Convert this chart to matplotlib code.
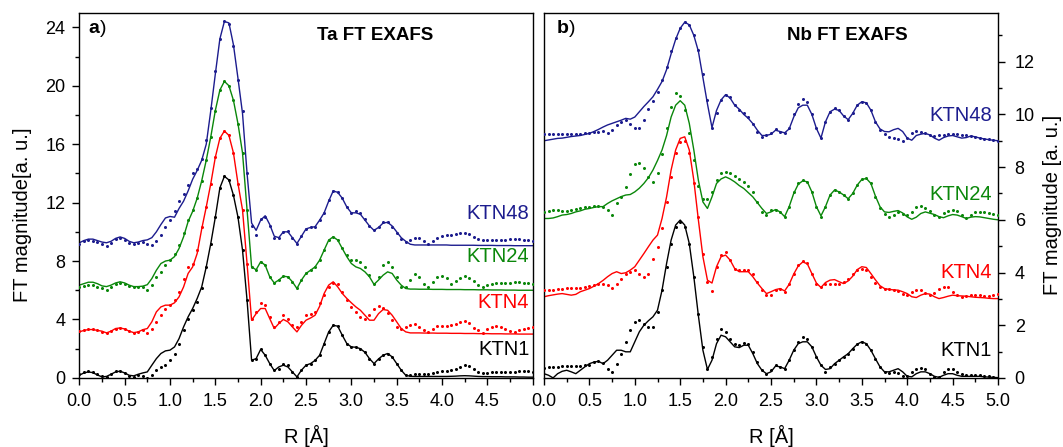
import numpy as np
import matplotlib
matplotlib.use("Agg")
import matplotlib.pyplot as plt
from matplotlib.ticker import MultipleLocator, FixedLocator

plt.rcParams['font.family'] = ['Liberation Sans', 'DejaVu Sans']

# sampling grid of R (Angstrom), step 0.05
r = np.round(np.arange(0, 101) * 0.05, 2)

# ---------------- Ta FT EXAFS (panel a) ----------------
ta_ktn48_data = [9.2, 9.35, 9.45, 9.4, 9.3, 9.15, 9.05, 9.25, 9.5, 9.6,
                 9.45, 9.25, 9.15, 9.25, 9.3, 9.15, 9.1, 9.4, 9.8, 10.3,
                 10.8, 11.4, 12.1, 12.6, 13.2, 14.0, 14.3, 15.0, 16.3, 18.5,
                 21.0, 23.2, 24.4, 24.2, 22.7, 20.4, 18.3, 14.0, 10.4, 9.8,
                 10.9, 11.0, 10.4, 9.6, 9.6, 10.0, 10.05, 9.6, 9.2, 9.7,
                 10.2, 10.3, 10.35, 10.8, 11.3, 12.2, 12.8, 12.75, 12.3, 11.7,
                 11.3, 11.4, 11.3, 10.9, 10.4, 10.1, 10.35, 10.7, 10.7, 10.35,
                 9.9, 9.5, 9.3, 9.45, 9.6, 9.55, 9.35, 9.2, 9.4, 9.6,
                 9.7, 9.75, 9.75, 9.85, 9.9, 9.95, 9.85, 9.65, 9.5, 9.45,
                 9.45, 9.45, 9.45, 9.45, 9.45, 9.5, 9.5, 9.5, 9.45, 9.45, 9.4]
ta_ktn48_fit = [9.25, 9.4, 9.5, 9.5, 9.4, 9.3, 9.25, 9.35, 9.55, 9.65,
                9.55, 9.35, 9.25, 9.3, 9.4, 9.45, 9.6, 10.0, 10.5, 10.95,
                11.05, 11.0, 11.6, 12.1, 12.8, 13.6, 14.2, 14.9, 16.0, 18.3,
                20.8, 23.2, 24.4, 24.3, 22.8, 20.5, 18.1, 14.0, 10.6, 10.1,
                10.8, 11.1, 10.5, 9.7, 9.6, 10.0, 10.0, 9.6, 9.2, 9.7,
                10.2, 10.3, 10.35, 10.8, 11.3, 12.1, 12.8, 12.7, 12.3, 11.7,
                11.3, 11.3, 11.2, 10.8, 10.4, 10.1, 10.3, 10.6, 10.65, 10.4,
                10.0, 9.6, 9.35, 9.15, 9.1, 9.1, 9.1, 9.1, 9.1, 9.1,
                9.1, 9.1, 9.08, 9.08, 9.08, 9.08, 9.08, 9.08, 9.07, 9.07,
                9.07, 9.07, 9.06, 9.06, 9.06, 9.06, 9.05, 9.05, 9.05, 9.05, 9.05]

ta_ktn24_data = [6.23, 6.3, 6.35, 6.35, 6.25, 6.12, 6.0, 6.2, 6.4, 6.5,
                 6.4, 6.28, 6.23, 6.23, 6.23, 6.05, 6.35, 6.92, 7.26, 7.72,
                 8.06, 8.5, 9.1, 9.9, 10.8, 11.5, 12.3, 13.5, 14.9, 16.5,
                 18.3, 19.7, 20.3, 20.0, 19.0, 17.4, 15.4, 11.5, 7.6, 7.4,
                 7.95, 7.72, 6.92, 6.5, 6.7, 6.96, 6.92, 6.58, 6.12, 6.7,
                 7.15, 7.37, 7.6, 8.06, 8.75, 9.43, 9.66, 9.43, 8.86, 8.4,
                 8.06, 8.06, 7.95, 7.6, 7.03, 6.46, 6.92, 7.72, 7.95, 7.6,
                 6.92, 6.23, 6.23, 6.7, 7.1, 6.92, 6.46, 6.23, 6.58, 6.92,
                 6.96, 6.85, 6.46, 6.6, 6.85, 6.95, 6.85, 6.64, 6.35, 6.23,
                 6.35, 6.45, 6.5, 6.5, 6.48, 6.5, 6.55, 6.55, 6.52, 6.5, 6.46]
ta_ktn24_fit = [6.35, 6.45, 6.55, 6.55, 6.45, 6.3, 6.25, 6.35, 6.5, 6.58,
                6.5, 6.35, 6.25, 6.25, 6.28, 6.38, 6.8, 7.37, 7.83, 8.0,
                8.06, 8.3, 8.86, 9.66, 10.7, 11.4, 12.3, 13.5, 14.9, 16.5,
                18.3, 19.7, 20.3, 20.0, 19.0, 17.4, 15.4, 11.5, 7.6, 7.4,
                7.95, 7.72, 6.92, 6.5, 6.7, 6.96, 6.92, 6.58, 6.12, 6.7,
                7.15, 7.37, 7.6, 8.06, 8.75, 9.43, 9.66, 9.43, 8.86, 8.3,
                7.83, 7.6, 7.49, 7.26, 6.92, 6.4, 6.7, 7.03, 7.26, 7.15,
                6.7, 6.35, 6.12, 6.08, 6.08, 6.07, 6.07, 6.07, 6.06, 6.06,
                6.06, 6.05, 6.05, 6.05, 6.05, 6.04, 6.04, 6.04, 6.03, 6.03,
                6.03, 6.02, 6.02, 6.02, 6.01, 6.01, 6.01, 6.0, 6.0, 6.0, 6.0]

ta_ktn4_data = [3.22, 3.3, 3.38, 3.38, 3.3, 3.15, 3.04, 3.2, 3.38, 3.45,
                3.38, 3.2, 3.08, 3.15, 3.26, 3.08, 3.38, 3.84, 4.29, 4.75,
                4.98, 5.32, 5.89, 6.8, 7.6, 7.83, 8.75, 10.3, 11.7, 13.3,
                15.1, 16.4, 16.9, 16.6, 15.4, 13.3, 11.5, 7.83, 4.0, 4.52,
                5.1, 4.98, 4.18, 3.49, 3.84, 4.29, 4.06, 3.6, 3.49, 3.84,
                4.29, 4.35, 4.52, 5.1, 5.66, 6.23, 6.5, 6.4, 5.89, 5.32,
                4.86, 4.52, 4.18, 4.06, 4.29, 4.75, 4.9, 4.8, 4.45, 3.95,
                3.49, 3.38, 3.5, 3.6, 3.67, 3.5, 3.26, 3.15, 3.35, 3.54,
                3.54, 3.54, 3.6, 3.72, 3.84, 3.9, 3.75, 3.45, 3.26, 3.08,
                3.38, 3.5, 3.54, 3.5, 3.38, 3.22, 3.15, 3.25, 3.38, 3.45, 3.49]
ta_ktn4_fit = [3.15, 3.25, 3.31, 3.31, 3.25, 3.2, 3.08, 3.2, 3.38, 3.42,
               3.35, 3.2, 3.1, 3.15, 3.3, 3.38, 3.84, 4.52, 4.86, 4.98,
               4.98, 5.14, 5.55, 6.23, 7.15, 7.6, 8.52, 10.2, 11.7, 13.3,
               15.1, 16.4, 16.9, 16.6, 15.4, 13.3, 11.5, 7.83, 3.95, 4.4,
               4.75, 4.75, 4.06, 3.38, 3.72, 4.0, 3.84, 3.49, 3.15, 3.6,
               3.95, 4.1, 4.29, 4.9, 5.78, 6.35, 6.58, 6.23, 5.78, 5.44,
               5.14, 4.86, 4.63, 4.29, 3.95, 3.95, 4.4, 4.68, 4.63, 4.29,
               3.84, 3.38, 3.15, 3.08, 3.08, 3.08, 3.07, 3.07, 3.07, 3.06,
               3.06, 3.06, 3.05, 3.05, 3.05, 3.04, 3.04, 3.04, 3.03, 3.03,
               3.03, 3.02, 3.02, 3.02, 3.01, 3.01, 3.01, 3.0, 3.0, 3.0, 3.0]

ta_ktn1_data = [0.3, 0.41, 0.48, 0.41, 0.25, 0.11, 0.07, 0.3, 0.48, 0.48,
                0.34, 0.11, 0.07, 0.18, 0.11, 0.0, 0.18, 0.53, 0.75, 0.87,
                1.21, 1.67, 2.35, 3.26, 4.06, 4.63, 5.2, 6.12, 7.6, 9.2,
                11.0, 13.0, 13.8, 13.55, 12.5, 11.0, 8.75, 5.32, 1.21, 1.32,
                1.95, 1.55, 0.98, 0.53, 0.64, 0.98, 0.87, 0.41, 0.07, 0.53,
                0.87, 0.98, 1.2, 1.55, 2.35, 3.15, 3.6, 3.54, 2.92, 2.35,
                2.12, 2.12, 2.0, 1.78, 1.32, 0.98, 1.32, 1.55, 1.67, 1.44,
                0.98, 0.53, 0.18, 0.2, 0.25, 0.28, 0.3, 0.3, 0.32, 0.4,
                0.45, 0.5, 0.52, 0.6, 0.75, 0.85, 0.8, 0.6, 0.4, 0.32,
                0.35, 0.4, 0.42, 0.4, 0.38, 0.38, 0.4, 0.45, 0.5, 0.48, 0.4]
ta_ktn1_fit = [0.18, 0.34, 0.41, 0.36, 0.2, 0.07, 0.1, 0.25, 0.41, 0.46,
               0.34, 0.18, 0.14, 0.25, 0.34, 0.41, 0.87, 1.32, 1.67, 1.85,
               1.9, 2.12, 2.69, 3.49, 4.18, 4.75, 5.44, 6.23, 7.6, 9.2,
               11.0, 13.0, 13.8, 13.55, 12.5, 11.0, 8.75, 5.32, 1.21, 1.32,
               1.95, 1.55, 0.98, 0.5, 0.75, 0.87, 0.75, 0.41, 0.07, 0.53,
               0.87, 0.98, 1.2, 1.55, 2.35, 3.15, 3.6, 3.54, 2.92, 2.35,
               2.12, 2.1, 2.0, 1.75, 1.32, 0.98, 1.3, 1.55, 1.67, 1.44,
               0.98, 0.53, 0.18, 0.11, 0.1, 0.1, 0.1, 0.1, 0.1, 0.1,
               0.1, 0.1, 0.11, 0.12, 0.14, 0.15, 0.14, 0.12, 0.1, 0.09,
               0.09, 0.08, 0.08, 0.08, 0.07, 0.07, 0.07, 0.06, 0.06, 0.05, 0.05]

# ---------------- Nb FT EXAFS (panel b) ----------------
nb_ktn48_data = [9.25, 9.25, 9.25, 9.25, 9.25, 9.25, 9.25, 9.25, 9.27, 9.28,
                 9.3, 9.32, 9.35, 9.38, 9.3, 9.4, 9.6, 9.7, 9.8, 9.65,
                 9.5, 9.47, 9.8, 10.2, 10.5, 10.85, 11.3, 11.8, 12.4, 12.9,
                 13.27, 13.5, 13.4, 13.0, 12.45, 11.55, 10.55, 9.5, 10.05, 10.55,
                 10.73, 10.65, 10.35, 10.15, 10.05, 9.9, 9.65, 9.35, 9.15, 9.2,
                 9.3, 9.43, 9.35, 9.3, 9.47, 10.0, 10.4, 10.57, 10.48, 10.0,
                 9.47, 9.1, 9.72, 10.1, 10.23, 10.16, 9.94, 9.8, 10.04, 10.35,
                 10.48, 10.44, 10.16, 9.72, 9.4, 9.25, 9.15, 9.1, 9.05, 9.0,
                 9.1, 9.3, 9.38, 9.35, 9.3, 9.22, 9.18, 9.2, 9.22, 9.25,
                 9.25, 9.24, 9.22, 9.2, 9.18, 9.15, 9.1, 9.08, 9.05, 9.03, 9.0]
nb_ktn48_fit = [9.0, 9.03, 9.06, 9.09, 9.1, 9.13, 9.16, 9.18, 9.2, 9.24,
                9.28, 9.35, 9.43, 9.52, 9.6, 9.66, 9.72, 9.78, 9.85, 9.82,
                9.9, 10.1, 10.3, 10.48, 10.67, 10.95, 11.25, 11.7, 12.3, 12.85,
                13.27, 13.5, 13.4, 13.0, 12.4, 11.4, 10.4, 9.5, 10.15, 10.55,
                10.75, 10.62, 10.35, 10.2, 10.0, 9.85, 9.65, 9.4, 9.2, 9.2,
                9.25, 9.4, 9.35, 9.3, 9.45, 9.9, 10.25, 10.35, 10.35, 10.0,
                9.47, 9.1, 9.72, 10.1, 10.2, 10.15, 9.94, 9.8, 10.04, 10.35,
                10.48, 10.44, 10.16, 9.72, 9.45, 9.35, 9.34, 9.42, 9.47, 9.35,
                9.1, 9.02, 9.2, 9.25, 9.28, 9.22, 9.1, 9.02, 9.12, 9.18,
                9.2, 9.15, 9.1, 9.12, 9.18, 9.15, 9.1, 9.07, 9.04, 9.02, 9.0]

nb_ktn24_data = [6.3, 6.35, 6.37, 6.36, 6.35, 6.35, 6.37, 6.4, 6.43, 6.47,
                 6.5, 6.51, 6.52, 6.5, 6.37, 6.2, 6.62, 6.87, 7.25, 7.75,
                 8.1, 8.14, 7.95, 7.63, 7.44, 7.76, 8.5, 9.47, 10.3, 10.8,
                 10.7, 10.16, 9.28, 8.27, 7.3, 6.8, 6.8, 7.06, 7.5, 7.76,
                 7.82, 7.76, 7.66, 7.53, 7.44, 7.28, 7.06, 6.68, 6.3, 6.18,
                 6.37, 6.39, 6.3, 6.09, 6.5, 7.06, 7.38, 7.5, 7.44, 7.06,
                 6.5, 6.11, 6.5, 6.94, 7.13, 7.06, 6.94, 6.8, 7.0, 7.32,
                 7.53, 7.57, 7.38, 6.87, 6.43, 6.22, 6.11, 6.2, 6.3, 6.22,
                 6.18, 6.3, 6.5, 6.52, 6.45, 6.32, 6.2, 6.11, 6.26, 6.35,
                 6.39, 6.35, 6.2, 6.05, 6.2, 6.28, 6.3, 6.3, 6.27, 6.22, 6.18]
nb_ktn24_fit = [6.05, 6.05, 6.07, 6.12, 6.18, 6.2, 6.24, 6.3, 6.34, 6.4,
                6.43, 6.47, 6.5, 6.5, 6.62, 6.72, 6.8, 6.88, 6.94, 6.96,
                7.06, 7.2, 7.38, 7.6, 7.89, 8.25, 8.65, 9.2, 9.9, 10.35,
                10.52, 10.35, 9.66, 8.65, 7.5, 6.68, 6.43, 6.87, 7.38, 7.55,
                7.63, 7.55, 7.44, 7.3, 7.19, 7.03, 6.87, 6.65, 6.43, 6.24,
                6.3, 6.39, 6.3, 6.12, 6.5, 7.0, 7.35, 7.48, 7.44, 7.06,
                6.5, 6.15, 6.5, 6.94, 7.13, 7.06, 6.94, 6.8, 7.0, 7.32,
                7.53, 7.57, 7.38, 6.9, 6.5, 6.3, 6.28, 6.32, 6.35, 6.26,
                6.11, 6.02, 6.1, 6.24, 6.3, 6.25, 6.2, 6.12, 6.08, 6.15,
                6.2, 6.18, 6.12, 6.05, 6.1, 6.12, 6.11, 6.08, 6.05, 6.02, 6.0]

nb_ktn4_data = [3.33, 3.34, 3.35, 3.37, 3.39, 3.41, 3.43, 3.42, 3.42, 3.45,
                3.48, 3.53, 3.58, 3.56, 3.52, 3.43, 3.58, 3.77, 3.96, 4.03,
                4.09, 3.96, 3.84, 3.96, 4.53, 4.97, 5.67, 6.68, 7.63, 8.52,
                8.96, 9.0, 8.52, 7.38, 6.11, 4.72, 3.65, 3.3, 4.22, 4.66,
                4.78, 4.47, 4.15, 4.09, 4.09, 4.11, 3.96, 3.65, 3.33, 3.14,
                3.14, 3.33, 3.39, 3.27, 3.58, 3.96, 4.28, 4.44, 4.35, 3.96,
                3.58, 3.46, 3.56, 3.56, 3.58, 3.58, 3.65, 3.77, 3.96, 4.11,
                4.15, 4.09, 3.84, 3.61, 3.46, 3.39, 3.39, 3.35, 3.3, 3.2,
                3.14, 3.27, 3.35, 3.33, 3.24, 3.14, 3.24, 3.39, 3.46, 3.44,
                3.27, 3.15, 3.08, 3.12, 3.14, 3.15, 3.14, 3.12, 3.1, 3.15, 3.2]
nb_ktn4_fit = [3.08, 3.12, 3.15, 3.18, 3.2, 3.17, 3.14, 3.17, 3.27, 3.33,
               3.39, 3.48, 3.58, 3.7, 3.84, 3.96, 4.03, 3.96, 3.99, 4.09,
               4.22, 4.47, 4.72, 4.98, 5.23, 5.42, 6.05, 6.87, 7.89, 8.65,
               9.09, 9.15, 8.65, 7.5, 6.0, 4.6, 3.71, 3.6, 4.22, 4.6,
               4.66, 4.47, 4.15, 4.03, 4.03, 4.03, 3.84, 3.6, 3.39, 3.2,
               3.27, 3.35, 3.39, 3.3, 3.55, 3.94, 4.25, 4.4, 4.33, 3.96,
               3.6, 3.43, 3.62, 3.71, 3.73, 3.65, 3.58, 3.68, 3.86, 4.11,
               4.22, 4.19, 3.96, 3.72, 3.5, 3.39, 3.36, 3.34, 3.33, 3.27,
               3.2, 3.08, 3.05, 3.14, 3.2, 3.18, 3.08, 3.01, 3.05, 3.1,
               3.14, 3.12, 3.11, 3.1, 3.08, 3.06, 3.05, 3.04, 3.02, 3.01, 3.01]

nb_ktn1_data = [0.39, 0.41, 0.42, 0.43, 0.44, 0.45, 0.46, 0.46, 0.47, 0.48,
                0.5, 0.6, 0.63, 0.57, 0.35, 0.23, 0.54, 0.92, 1.37, 1.81,
                2.13, 2.19, 2.06, 1.94, 1.94, 2.5, 3.33, 4.22, 5.1, 5.73,
                5.92, 5.73, 5.1, 3.84, 2.44, 1.18, 0.32, 0.8, 1.49, 1.87,
                1.75, 1.49, 1.3, 1.24, 1.33, 1.3, 0.99, 0.61, 0.29, 0.16,
                0.29, 0.48, 0.42, 0.35, 0.67, 1.05, 1.37, 1.56, 1.49, 1.18,
                0.8, 0.48, 0.23, 0.4, 0.54, 0.67, 0.8, 0.92, 1.11, 1.28,
                1.37, 1.3, 1.05, 0.73, 0.42, 0.23, 0.19, 0.23, 0.19, 0.06,
                0.06, 0.23, 0.35, 0.39, 0.32, 0.16, 0.04, 0.04, 0.23, 0.32,
                0.32, 0.23, 0.14, 0.12, 0.1, 0.1, 0.1, 0.08, 0.06, 0.03, 0.01]
nb_ktn1_fit = [0.16, 0.1, 0.0, 0.16, 0.25, 0.29, 0.23, 0.16, 0.29, 0.42,
               0.54, 0.6, 0.63, 0.54, 0.67, 0.86, 1.05, 1.05, 0.99, 0.99,
               1.37, 1.75, 2.0, 2.17, 2.32, 2.57, 3.33, 4.34, 5.23, 5.8,
               5.99, 5.8, 5.1, 3.84, 2.37, 1.05, 0.32, 0.67, 1.3, 1.62,
               1.56, 1.37, 1.18, 1.15, 1.24, 1.24, 0.92, 0.54, 0.29, 0.16,
               0.23, 0.45, 0.42, 0.35, 0.67, 1.05, 1.3, 1.37, 1.37, 1.18,
               0.8, 0.48, 0.32, 0.35, 0.54, 0.67, 0.8, 0.92, 1.11, 1.28,
               1.37, 1.3, 1.05, 0.73, 0.42, 0.23, 0.23, 0.29, 0.35, 0.23,
               0.06, 0.04, 0.16, 0.23, 0.23, 0.16, 0.06, 0.02, 0.1, 0.16,
               0.16, 0.1, 0.06, 0.06, 0.06, 0.06, 0.06, 0.04, 0.03, 0.02, 0.01]

samples = ['KTN48', 'KTN24', 'KTN4', 'KTN1']
colors = ['#1c1c8e', '#0a870a', '#ff0000', '#000000']

ta_data = [ta_ktn48_data, ta_ktn24_data, ta_ktn4_data, ta_ktn1_data]
ta_fit = [ta_ktn48_fit, ta_ktn24_fit, ta_ktn4_fit, ta_ktn1_fit]
nb_data = [nb_ktn48_data, nb_ktn24_data, nb_ktn4_data, nb_ktn1_data]
nb_fit = [nb_ktn48_fit, nb_ktn24_fit, nb_ktn4_fit, nb_ktn1_fit]

ta_label_y = [11.25, 8.28, 5.15, 1.95]
nb_label_y = [9.94, 6.96, 4.0, 1.05]

W, H = 1063, 447
fig = plt.figure(figsize=(W / 100, H / 100), dpi=100)

def px_box(x0, x1, ytop, ybot):
    return [x0 / W, 1 - ybot / H, (x1 - x0) / W, (ybot - ytop) / H]

axa = fig.add_axes(px_box(79.3, 532.7, 12.7, 377.9))
axb = fig.add_axes(px_box(544.0, 998.0, 12.7, 377.9))

FS_TICK = 13
FS_LAB = 14.5

for ax, dat, fit in [(axa, ta_data, ta_fit), (axb, nb_data, nb_fit)]:
    for d, f, c in zip(dat, fit, colors):
        ax.plot(r, f, '-', color=c, lw=1.0, zorder=2)
        ax.plot(r, d, 'o', color=c, ms=2.2, mew=0, zorder=3)
    ax.set_xlim(0, 5)
    for s in ax.spines.values():
        s.set_linewidth(1.0)
    ax.xaxis.set_major_locator(MultipleLocator(0.5))
    ax.xaxis.set_minor_locator(MultipleLocator(0.25))
    ax.tick_params(which='both', direction='out', width=1.0, labelsize=FS_TICK)
    ax.tick_params(which='major', length=5, pad=6)
    ax.tick_params(which='minor', length=3)

# panel a
axa.set_ylim(0, 25)
axa.yaxis.set_major_locator(FixedLocator([0, 4, 8, 12, 16, 20, 24]))
axa.yaxis.set_minor_locator(FixedLocator([2, 6, 10, 14, 18, 22]))
axa.set_xticks(np.arange(0, 5.01, 0.5))
axa.set_xticklabels(['%.1f' % v for v in np.arange(0, 4.51, 0.5)] + [''])
axa.tick_params(axis='y', which='both', left=True, right=False, pad=5)
axa.tick_params(axis='x', which='both', top=False)

# panel b
axb.set_ylim(0, 13.86)
axb.yaxis.set_major_locator(FixedLocator([0, 2, 4, 6, 8, 10, 12]))
axb.yaxis.set_minor_locator(FixedLocator([1, 3, 5, 7, 9, 11, 13]))
axb.yaxis.tick_right()
axb.tick_params(axis='y', which='both', left=False, right=True,
                labelleft=False, labelright=True)
axb.tick_params(axis='y', which='major', pad=7)
axb.tick_params(axis='x', which='both', top=False)

# sample labels
for ax, ys, xr in [(axa, ta_label_y, 4.962), (axb, nb_label_y, 4.934)]:
    for s, c, y in zip(samples, colors, ys):
        ax.text(xr, y, s, color=c, fontsize=14.5, ha='right', va='center')

# panel letters and titles
for ax, letter, title, tx in [(axa, 'a', 'Ta FT EXAFS', 0.652),
                              (axb, 'b', 'Nb FT EXAFS', 0.667)]:
    t = ax.text(0.021 if letter == 'a' else 0.029, 0.957, letter,
                transform=ax.transAxes, fontsize=14, fontweight='bold',
                ha='left', va='center')
    ax.annotate(')', xy=(1, 0), xycoords=t, fontsize=14, ha='left', va='bottom')
    ax.text(tx, 0.938, title, transform=ax.transAxes, fontsize=13.5,
            fontweight='bold', ha='center', va='center')

# axis labels
fig.text(22.5 / W, 1 - 215 / H, 'FT magnitude[a. u.]', rotation=90,
         ha='center', va='center', fontsize=FS_LAB)
fig.text(1052 / W, 1 - 205 / H, 'FT magnitude [a. u.]', rotation=90,
         ha='center', va='center', fontsize=FS_LAB)
fig.text(306 / W, 1 - 436 / H, 'R [Å]', ha='center', va='center', fontsize=FS_LAB)
fig.text(771 / W, 1 - 436 / H, 'R [Å]', ha='center', va='center', fontsize=FS_LAB)

fig.savefig('out.png', dpi=100)
